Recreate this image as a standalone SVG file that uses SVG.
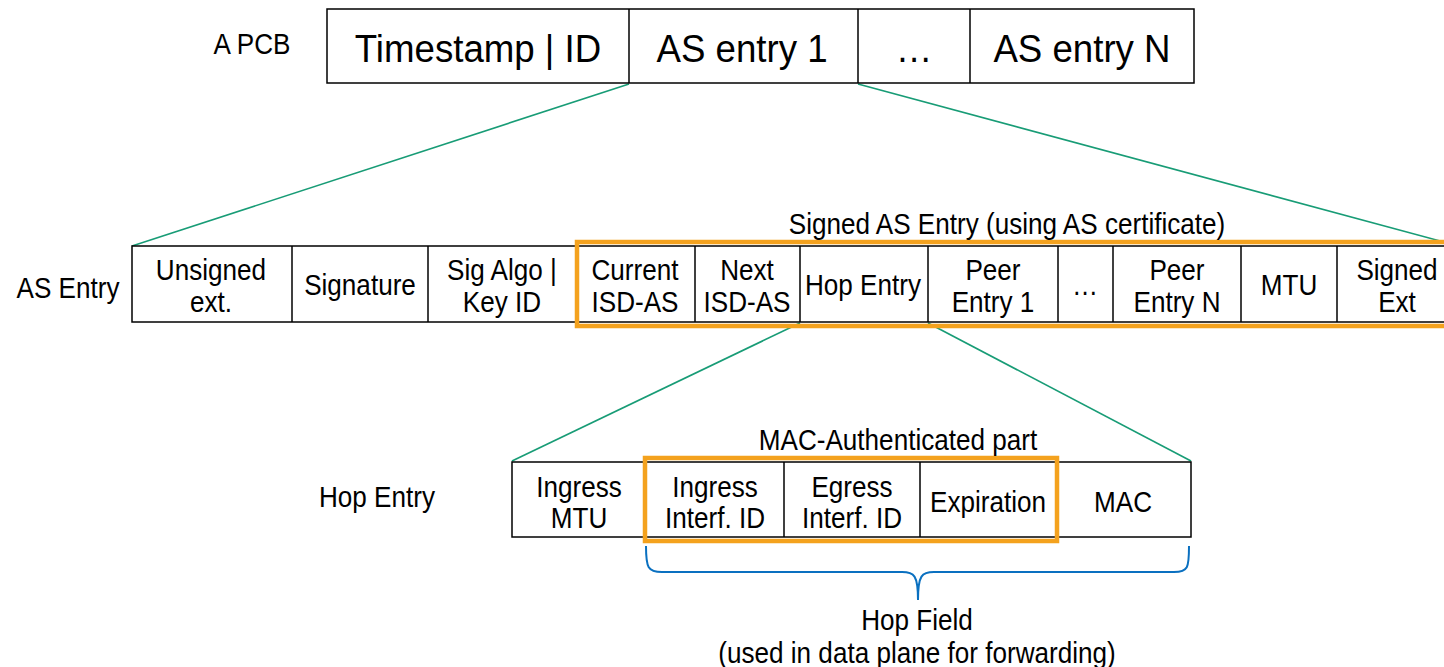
<svg xmlns="http://www.w3.org/2000/svg" width="1444" height="667" viewBox="0 0 1444 667">
  <style>
    text { font-family: "Liberation Sans", Arial, sans-serif; fill: #000; transform-box: fill-box; transform-origin: center; }
    .big { font-size: 39px; text-anchor: middle; transform: scaleX(0.94); }
    .t { font-size: 29px; text-anchor: middle; transform: scaleX(0.9); }
    .lbl { font-size: 29px; text-anchor: middle; transform: scaleX(0.9); }
    .cell { fill: #fff; stroke: #000; stroke-width: 1.5; }
    .div { stroke: #000; stroke-width: 1.5; }
    .hl { fill: none; stroke: #F4A21E; stroke-width: 4.5; }
    .zoom { stroke: #189C76; stroke-width: 1.6; fill: none; }
    .brace { stroke: #0A70C0; stroke-width: 2; fill: none; }
  </style>

  <!-- zoom-in connectors -->
  <g id="connectors">
    <line class="zoom" x1="629" y1="84" x2="132" y2="246"/>
    <line class="zoom" x1="858" y1="84" x2="1444" y2="242"/>
    <line class="zoom" x1="800" y1="323" x2="512" y2="461"/>
    <line class="zoom" x1="928" y1="323" x2="1191" y2="461"/>
    <path class="brace" d="M646,546 C646,568 648,572 662,572 L902,572 C914,572 918,575 918,600 C918,575 922,572 934,572 L1174,572 C1188,572 1189,568 1189,546"/>
  </g>

  <!-- PCB -->
  <g id="pcb">
    <text class="lbl" x="252" y="54">A PCB</text>
    <rect class="cell" x="327" y="9" width="867" height="74"/>
    <line class="div" x1="629" y1="9" x2="629" y2="83"/>
    <line class="div" x1="858" y1="9" x2="858" y2="83"/>
    <line class="div" x1="970" y1="9" x2="970" y2="83"/>
    <text class="big" x="478" y="62">Timestamp | ID</text>
    <text class="big" x="742" y="62">AS entry 1</text>
    <text class="big" x="914" y="62">…</text>
    <text class="big" x="1082" y="62">AS entry N</text>
  </g>

  <!-- AS entry -->
  <g id="as-entry">
    <text class="lbl" x="68" y="298">AS Entry</text>
    <rect class="cell" x="132" y="246" width="1320" height="76"/>
    <line class="div" x1="292" y1="246" x2="292" y2="322"/>
    <line class="div" x1="428" y1="246" x2="428" y2="322"/>
    <line class="div" x1="695" y1="246" x2="695" y2="322"/>
    <line class="div" x1="800" y1="246" x2="800" y2="322"/>
    <line class="div" x1="928" y1="246" x2="928" y2="322"/>
    <line class="div" x1="1058" y1="246" x2="1058" y2="322"/>
    <line class="div" x1="1113" y1="246" x2="1113" y2="322"/>
    <line class="div" x1="1241" y1="246" x2="1241" y2="322"/>
    <line class="div" x1="1337" y1="246" x2="1337" y2="322"/>
    <text class="t" x="211" y="280">Unsigned</text>
    <text class="t" x="211" y="312">ext.</text>
    <text class="t" x="360" y="295">Signature</text>
    <text class="t" x="502" y="280">Sig Algo |</text>
    <text class="t" x="502" y="312">Key ID</text>
    <text class="t" x="635" y="280">Current</text>
    <text class="t" x="635" y="312">ISD-AS</text>
    <text class="t" x="747" y="280">Next</text>
    <text class="t" x="747" y="312">ISD-AS</text>
    <text class="t" x="863" y="295">Hop Entry</text>
    <text class="t" x="993" y="280">Peer</text>
    <text class="t" x="993" y="312">Entry 1</text>
    <text class="t" x="1085" y="295">…</text>
    <text class="t" x="1177" y="280">Peer</text>
    <text class="t" x="1177" y="312">Entry N</text>
    <text class="t" x="1289" y="295">MTU</text>
    <text class="t" x="1397" y="280">Signed</text>
    <text class="t" x="1397" y="312">Ext</text>
    <rect class="hl" x="577" y="242" width="880" height="84"/>
    <text class="t" x="1007" y="234">Signed AS Entry (using AS certificate)</text>
  </g>

  <!-- Hop entry -->
  <g id="hop-entry">
    <text class="lbl" x="377" y="507">Hop Entry</text>
    <rect class="cell" x="512" y="462" width="679" height="75"/>
    <line class="div" x1="645" y1="462" x2="645" y2="537"/>
    <line class="div" x1="784" y1="462" x2="784" y2="537"/>
    <line class="div" x1="920" y1="462" x2="920" y2="537"/>
    <line class="div" x1="1058" y1="462" x2="1058" y2="537"/>
    <text class="t" x="579" y="497">Ingress</text>
    <text class="t" x="579" y="528">MTU</text>
    <text class="t" x="715" y="497">Ingress</text>
    <text class="t" x="715" y="528">Interf. ID</text>
    <text class="t" x="852" y="497">Egress</text>
    <text class="t" x="852" y="528">Interf. ID</text>
    <text class="t" x="988" y="512">Expiration</text>
    <text class="t" x="1123" y="512">MAC</text>
    <rect class="hl" x="645" y="458" width="412" height="83"/>
    <text class="t" x="898" y="450">MAC-Authenticated part</text>
  </g>

  <!-- Hop field caption -->
  <g id="hop-field">
    <text class="t" x="917" y="630">Hop Field</text>
    <text class="t" x="917" y="663">(used in data plane for forwarding)</text>
  </g>
</svg>
